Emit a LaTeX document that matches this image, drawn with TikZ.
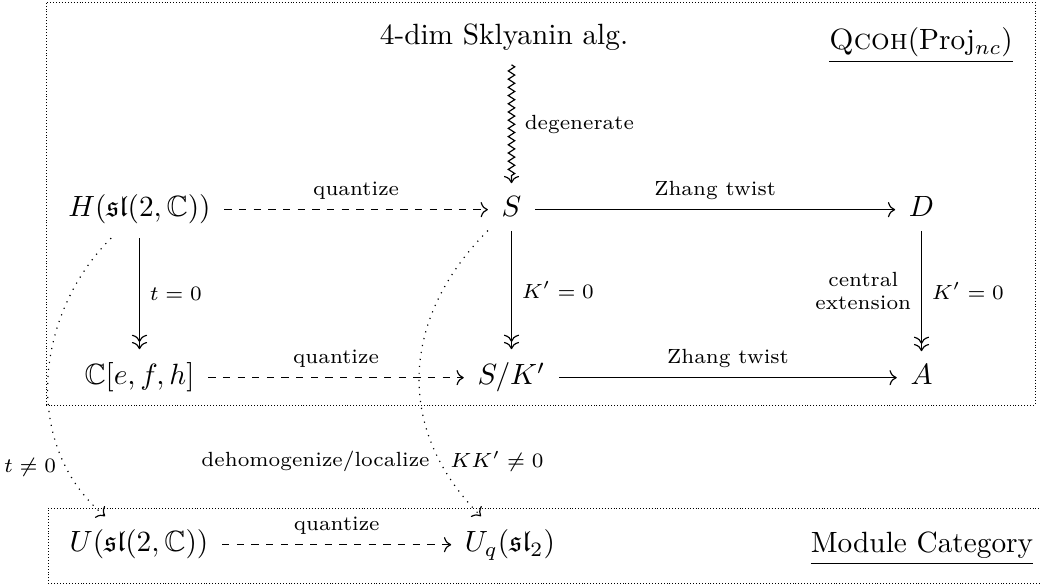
\documentclass[tikz,border=0pt]{standalone}
\usepackage{amsmath,amssymb}
\usetikzlibrary{arrows.meta,decorations.pathmorphing}
\begin{document}
\begin{tikzpicture}[x=0.3413pt,y=0.3413pt,
  >={Computer Modern Rightarrow},
  obj/.style={anchor=base,inner sep=4.5pt},
  lab/.style={font=\scriptsize},
  dasharrow/.style={->,dash pattern=on 2.5pt off 2.5pt},
  solidarrow/.style={->},
  surj/.style={->>},
  dotcurve/.style={->,dotted},
  squig/.style={->,decorate,decoration={zigzag,amplitude=1.1pt,segment length=2.8pt,post length=2.5pt}},
  catbox/.style={line width=0.3pt,dash pattern=on 0.3pt off 0.7pt}]
\useasboundingbox (0,0) rectangle (1041,586);
% boxes
\draw[catbox] (46,181) rectangle (1035,584);
\draw[catbox] (1060,3) -- (48,3) -- (48,78) -- (1060,78);
% nodes
\node[obj] (skl) at (504,541) {4-dim Sklyanin alg.};
\node[anchor=base] (qcoh) at (921,536) {\underline{\textsc{Qcoh}(Proj$_{nc}$)}};
\node[obj] (H) at (139.5,369) {$H(\mathfrak{sl}(2,\mathbb{C}))$};
\node[obj] (S) at (511.5,369) {$S$};
\node[obj] (D) at (921.5,369) {$D$};
\node[obj] (C) at (139.5,201) {$\mathbb{C}[e,f,h]$};
\node[obj] (SK) at (511.5,201) {$S/K'$};
\node[obj] (A) at (921.5,201) {$A$};
\node[obj] (U) at (139,34) {$U(\mathfrak{sl}(2,\mathbb{C}))$};
\node[obj] (Uq) at (510,34) {$U_q(\mathfrak{sl}_2)$};
\node[anchor=base] (mod) at (922,33) {\underline{Module Category}};
% arrows
\draw[squig] (skl.south -| S.north) -- node[lab,right=1pt]{degenerate} (S.north);
\draw[dasharrow] ([yshift=2.5pt]H.base east) -- node[lab,above]{quantize} ([yshift=2.5pt]S.base west);
\draw[solidarrow] ([yshift=2.5pt]S.base east) -- node[lab,above]{Zhang twist} ([yshift=2.5pt]D.base west);
\draw[dasharrow] ([yshift=2.5pt]C.base east) -- node[lab,above]{quantize} ([yshift=2.5pt]SK.base west);
\draw[solidarrow] ([yshift=2.5pt]SK.base east) -- node[lab,above]{Zhang twist} ([yshift=2.5pt]A.base west);
\draw[dasharrow] ([yshift=2.5pt]U.base east) -- node[lab,above]{quantize} ([yshift=2.5pt]Uq.base west);
\draw[surj] (H) -- node[lab,right]{$t=0$} (C);
\draw[surj] (S) -- node[lab,right]{$K'=0$} (SK);
\draw[surj] (D) -- node[lab,right]{$K'=0$} node[lab,left,align=center]{central\\extension} (A);
\draw[dotcurve] (H) to[out=-135,in=140,looseness=1] node[lab,left,pos=0.8]{$t\neq0$} (U);
\draw[dotcurve] (S) to[out=-135,in=135,looseness=1.1] node[lab,left,pos=0.8]{dehomogenize/localize} node[lab,right,pos=0.8]{$KK'\neq0$} (Uq);
\end{tikzpicture}
\end{document}
